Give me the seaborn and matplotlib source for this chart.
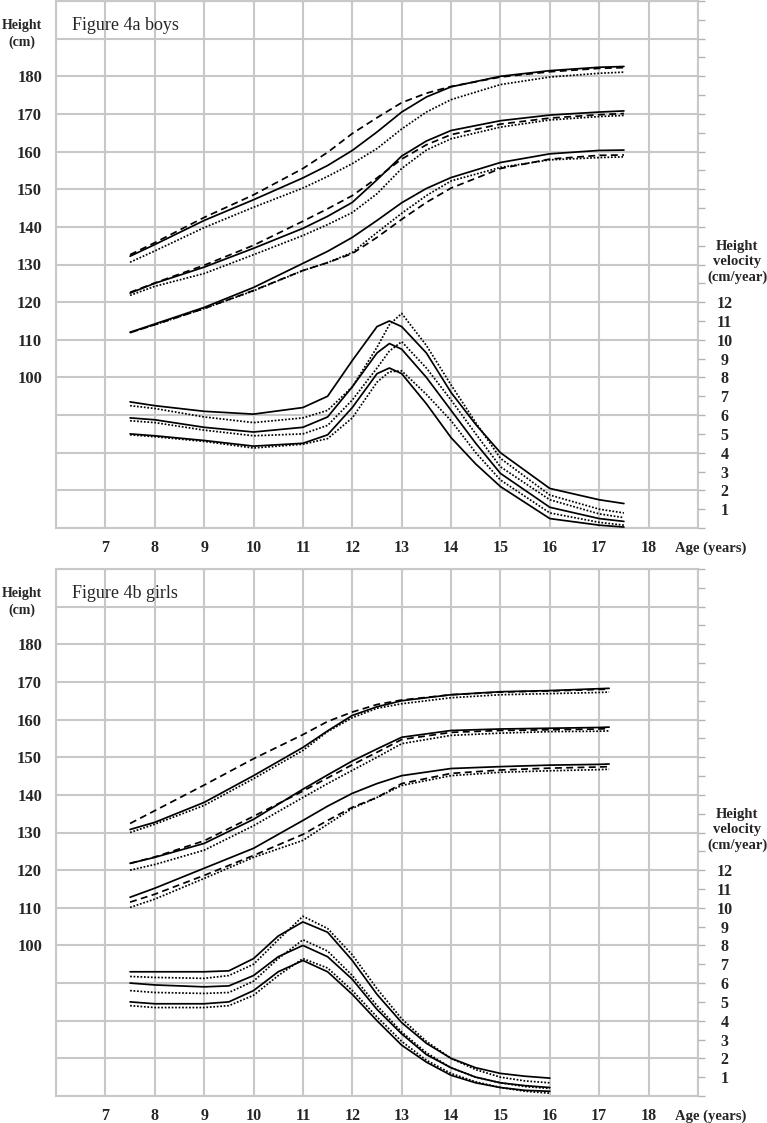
import numpy as np
import pandas as pd
import seaborn as sns
import matplotlib.pyplot as plt

# ---- boys, height (cm) ----
boys_age = [7.5, 8, 9, 10, 11, 11.5, 12, 12.5, 13, 13.5, 14, 15, 16, 17, 17.5]
boys_h = {
    ('p97', 'solid'):  [132.2, 135.3, 141.7, 147.2, 153.0, 156.3, 160.3, 165.2, 170.5, 174.5, 177.2, 180.0, 181.5, 182.4, 182.6],
    ('p97', 'dashed'): [132.6, 135.8, 142.5, 148.5, 155.5, 159.8, 164.8, 169.0, 173.0, 175.5, 177.3, 179.8, 181.2, 182.1, 182.3],
    ('p97', 'dotted'): [130.6, 133.6, 139.8, 145.2, 150.3, 153.4, 156.8, 160.8, 166.0, 170.5, 173.8, 177.8, 179.8, 180.8, 181.1],
    ('p50', 'solid'):  [122.4, 125.0, 129.3, 134.3, 139.6, 142.8, 146.5, 152.5, 158.8, 162.8, 165.6, 168.2, 169.7, 170.5, 170.8],
    ('p50', 'dashed'): [122.6, 125.1, 129.8, 135.1, 141.5, 144.8, 148.3, 153.0, 158.0, 161.8, 164.5, 167.3, 168.9, 169.8, 170.1],
    ('p50', 'dotted'): [121.8, 124.2, 127.6, 132.6, 137.7, 140.6, 143.8, 148.8, 155.5, 160.4, 163.4, 166.5, 168.4, 169.3, 169.6],
    ('p3', 'solid'):   [112.0, 114.2, 118.6, 123.9, 130.3, 133.5, 137.2, 141.7, 146.4, 150.2, 153.1, 157.1, 159.4, 160.3, 160.4],
    ('p3', 'dashed'):  [111.9, 114.0, 118.3, 123.1, 128.4, 130.5, 132.9, 137.2, 142.0, 146.5, 150.3, 155.5, 158.0, 159.0, 159.1],
    ('p3', 'dotted'):  [111.9, 114.0, 118.3, 123.0, 128.4, 130.5, 133.2, 138.5, 143.6, 148.3, 152.2, 155.8, 157.8, 158.4, 158.6],
}

# ---- boys, height velocity (cm/year) ----
boys_vage = [7.5, 8, 9, 10, 11, 11.5, 12, 12.5, 12.75, 13, 13.5, 14, 14.5, 15, 16, 17, 17.5]
boys_v = {
    ('p97', 'solid'):  [6.7, 6.5, 6.2, 6.05, 6.4, 7.0, 8.9, 10.7, 11.0, 10.7, 9.3, 7.2, 5.5, 4.0, 2.1, 1.5, 1.3],
    ('p97', 'dotted'): [6.5, 6.35, 5.9, 5.6, 5.85, 6.25, 7.5, 9.6, 10.8, 11.4, 9.7, 7.6, 5.6, 3.7, 1.75, 1.0, 0.8],
    ('p50', 'solid'):  [5.85, 5.75, 5.35, 5.1, 5.35, 5.9, 7.5, 9.3, 9.8, 9.5, 8.0, 6.25, 4.5, 2.9, 1.1, 0.5, 0.35],
    ('p50', 'dotted'): [5.7, 5.6, 5.2, 4.9, 5.0, 5.45, 6.8, 8.5, 9.4, 9.9, 8.5, 6.8, 5.0, 3.25, 1.5, 0.75, 0.55],
    ('p3', 'solid'):   [5.0, 4.9, 4.65, 4.35, 4.5, 4.95, 6.4, 8.2, 8.5, 8.2, 6.6, 4.8, 3.4, 2.2, 0.5, 0.15, 0.05],
    ('p3', 'dotted'):  [4.95, 4.85, 4.6, 4.25, 4.45, 4.75, 5.85, 7.75, 8.3, 8.35, 7.1, 5.7, 4.0, 2.55, 0.8, 0.3, 0.15],
}

# ---- girls, height (cm) ----
girls_age = [7.5, 8, 9, 10, 11, 11.5, 12, 12.5, 13, 14, 15, 16, 17, 17.2]
girls_h = {
    ('p97', 'solid'):  [130.8, 132.7, 138.0, 145.1, 152.6, 157.0, 161.1, 163.4, 165.0, 166.6, 167.4, 167.7, 168.2, 168.3],
    ('p97', 'dashed'): [132.4, 135.8, 142.6, 149.6, 156.0, 159.5, 162.0, 164.0, 165.2, 166.6, 167.3, 167.6, 168.0, 168.1],
    ('p97', 'dotted'): [130.0, 132.2, 137.2, 144.3, 151.8, 156.8, 160.5, 163.0, 164.2, 165.8, 166.6, 166.9, 167.2, 167.3],
    ('p50', 'solid'):  [121.8, 123.4, 127.1, 133.5, 141.5, 145.3, 149.0, 152.2, 155.3, 157.1, 157.5, 157.7, 157.9, 158.0],
    ('p50', 'dashed'): [121.8, 123.5, 127.8, 134.3, 141.0, 144.5, 148.0, 151.3, 154.7, 156.6, 157.1, 157.3, 157.5, 157.6],
    ('p50', 'dotted'): [120.0, 121.5, 125.3, 131.8, 139.3, 143.0, 146.5, 150.0, 153.6, 155.8, 156.4, 156.8, 156.9, 157.0],
    ('p3', 'solid'):   [112.8, 115.2, 120.5, 125.8, 133.2, 137.0, 140.4, 143.0, 145.1, 147.0, 147.5, 147.9, 148.1, 148.2],
    ('p3', 'dashed'):  [111.5, 113.6, 118.6, 123.9, 129.5, 133.2, 136.7, 139.3, 143.0, 145.7, 146.6, 147.1, 147.4, 147.5],
    ('p3', 'dotted'):  [110.1, 112.3, 117.8, 123.4, 127.9, 132.2, 136.4, 139.3, 142.5, 145.1, 146.0, 146.4, 146.7, 146.8],
}

# ---- girls, height velocity (cm/year) ----
girls_vage = [7.5, 8, 9, 9.5, 10, 10.5, 11, 11.5, 12, 12.5, 13, 13.5, 14, 14.5, 15, 15.5, 16]
girls_v = {
    ('p97', 'solid'):  [6.6, 6.6, 6.6, 6.65, 7.3, 8.5, 9.25, 8.7, 7.2, 5.4, 3.9, 2.8, 2.0, 1.5, 1.2, 1.05, 0.95],
    ('p97', 'dotted'): [6.35, 6.3, 6.25, 6.4, 7.0, 8.3, 9.55, 8.9, 7.5, 5.7, 4.1, 2.9, 2.0, 1.4, 1.0, 0.8, 0.7],
    ('p50', 'solid'):  [6.0, 5.9, 5.8, 5.85, 6.4, 7.4, 8.0, 7.4, 6.2, 4.6, 3.3, 2.2, 1.5, 1.0, 0.7, 0.55, 0.45],
    ('p50', 'dotted'): [5.6, 5.5, 5.45, 5.5, 6.1, 7.3, 8.3, 7.7, 6.4, 4.8, 3.4, 2.3, 1.5, 1.0, 0.7, 0.5, 0.4],
    ('p3', 'solid'):   [5.0, 4.9, 4.9, 5.0, 5.6, 6.6, 7.2, 6.6, 5.4, 4.0, 2.7, 1.8, 1.1, 0.7, 0.45, 0.3, 0.25],
    ('p3', 'dotted'):  [4.8, 4.7, 4.7, 4.8, 5.35, 6.4, 7.3, 6.8, 5.6, 4.2, 2.9, 1.9, 1.2, 0.75, 0.45, 0.25, 0.15],
}

age_ticks = list(range(6, 20))
age_labels = [str(a) if 7 <= a <= 18 else '' for a in age_ticks]
height_ticks = list(range(60, 201, 10))
height_labels = [str(h) if 100 <= h <= 180 else '' for h in height_ticks]
vel_ticks = list(range(0, 29))
vel_labels = [str(v) if 1 <= v <= 12 else '' for v in vel_ticks]

W, H = 767, 1123
GRID = '#c8c8c8'
DASHES = {'solid': '', 'dashed': (4, 2.5), 'dotted': (1, 1.0)}


def to_long(ages, curves):
    rows = []
    for (centile, src), vals in curves.items():
        for a, v in zip(ages, vals):
            rows.append({'age': a, 'value': v, 'centile': centile, 'source': src})
    return pd.DataFrame(rows)


def fx(px):
    return px / W


def fy(py):
    return 1 - py / H


def draw_panel(fig, top_px, title, h_df, v_df):
    rect = [fx(56), fy(top_px + 527), fx(698) - fx(56), 527 / H]
    ax = fig.add_axes(rect)
    sns.lineplot(data=h_df, x='age', y='value', style='source', units='centile',
                 estimator=None, dashes=DASHES, color='black', linewidth=1.25,
                 legend=False, sort=False, ax=ax)
    ax.set_xlim(6, 19)
    ax.set_ylim(60, 200)
    ax.set_xticks(age_ticks)
    ax.set_xticklabels(age_labels, fontsize=11.5, fontweight='bold')
    ax.set_yticks(height_ticks)
    ax.set_yticklabels(height_labels, fontsize=12, fontweight='bold')
    ax.tick_params(axis='x', length=0, pad=9)
    ax.tick_params(axis='y', length=0, pad=10)
    ax.grid(True, color=GRID, linewidth=1.5)
    ax.set_axisbelow(True)
    ax.set_xlabel('')
    ax.set_ylabel('')
    for sp in ax.spines.values():
        sp.set_color(GRID)
        sp.set_linewidth(1.5)

    # velocity curves share the grid, on their own scale (0 cm/yr at the bottom)
    vax = ax.twinx()
    sns.lineplot(data=v_df, x='age', y='value', style='source', units='centile',
                 estimator=None, dashes=DASHES, color='black', linewidth=1.25,
                 legend=False, sort=False, ax=vax)
    vax.set_ylim(0, 28)
    vax.set_yticks(vel_ticks)
    vax.set_yticklabels(vel_labels, fontsize=11.5, fontweight='bold', ha='center')
    vax.tick_params(axis='y', length=5, width=1, color='#b4b4b4', pad=14)
    vax.set_ylabel('')
    for sp in vax.spines.values():
        sp.set_visible(False)

    fig.text(fx(22), fy(top_px + 33), 'Height\n(cm)', ha='center', va='center',
             fontsize=10, fontweight='bold', linespacing=1.35)
    fig.text(fx(72), fy(top_px + 24), title, ha='left', va='center', fontsize=13)
    fig.text(fx(737), fy(top_px + 261), 'Height\nvelocity\n(cm/year)', ha='center',
             va='center', fontsize=10.5, fontweight='bold', linespacing=1.25)
    fig.text(fx(711), fy(top_px + 547), 'Age (years)', ha='center', va='center',
             fontsize=10.5, fontweight='bold')
    return ax, vax


sns.set_style('white')
plt.rcParams['font.family'] = ['Liberation Serif', 'DejaVu Serif']

fig = plt.figure(figsize=(W / 100, H / 100), dpi=100)
draw_panel(fig, 1, 'Figure 4a boys', to_long(boys_age, boys_h), to_long(boys_vage, boys_v))
draw_panel(fig, 569, 'Figure 4b girls', to_long(girls_age, girls_h), to_long(girls_vage, girls_v))

fig.savefig('out.png', dpi=100)
